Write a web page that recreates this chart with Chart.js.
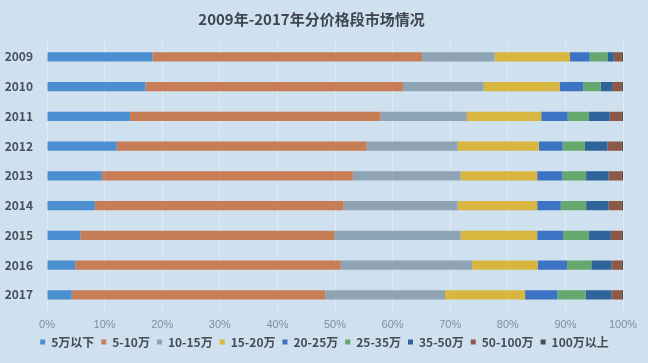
<!DOCTYPE html>
<html>
<head>
<meta charset="utf-8">
<script src="https://cdn.jsdelivr.net/npm/chart.js@4/dist/chart.umd.min.js"></script>
<style>
  html, body { margin: 0; padding: 0; }
  body { width: 648px; height: 363px; background: #cfe0ef; }
  #wrap { position: relative; width: 648px; height: 363px; }
</style>
</head>
<body>
<div id="wrap"><canvas id="chart" width="648" height="363"></canvas></div>
<script>
// 年份
const years = ['2009', '2010', '2011', '2012', '2013', '2014', '2015', '2016', '2017'];

// 各价格段占比 (%)
const under5 = [18.3, 17.1, 14.4, 12.1, 9.5, 8.3, 5.8, 4.9, 4.3];
const p5to10 = [46.8, 44.7, 43.5, 43.4, 43.6, 43.2, 44.1, 46.1, 44.0];
const p10to15 = [12.6, 14.0, 15.0, 15.8, 18.7, 19.8, 21.9, 22.8, 20.8];
const p15to20 = [13.1, 13.2, 12.9, 14.1, 13.3, 13.8, 13.3, 11.4, 13.9];
const p20to25 = [3.4, 4.1, 4.6, 4.1, 4.4, 4.1, 4.5, 5.1, 5.6];
const p25to35 = [3.1, 3.0, 3.7, 3.9, 4.1, 4.4, 4.5, 4.2, 4.9];
const p35to50 = [1.1, 2.0, 3.6, 3.9, 3.9, 3.9, 3.8, 3.5, 4.5];
const p50to100 = [1.4, 1.7, 2.1, 2.5, 2.3, 2.3, 1.9, 1.8, 1.8];
const over100 = [0.2, 0.2, 0.2, 0.2, 0.2, 0.2, 0.2, 0.2, 0.2];

const seriesNames = ['5万以下', '5-10万', '10-15万', '15-20万', '20-25万', '25-35万', '35-50万', '50-100万', '100万以上'];
const seriesData = [under5, p5to10, p10to15, p15to20, p20to25, p25to35, p35to50, p50to100, over100];
const colors = ['#4b8fd1', '#c77e57', '#8ea3b4', '#d8b640', '#3d73c3', '#67a86e', '#2d659b', '#8b5946', '#4d4d4d'];

const xTicks = ['0%', '10%', '20%', '30%', '40%', '50%', '60%', '70%', '80%', '90%', '100%'];

// 图例右移居中并上移，贴近横轴刻度
const legendShift = {
    id: 'legendShift',
    afterLayout(chart) {
        const lg = chart.legend;
        lg.left += 13;
        lg.right += 13;
        lg.top -= 12;
        lg.bottom -= 12;
    }
};

const ctx = document.getElementById('chart').getContext('2d');
new Chart(ctx, {
    type: 'bar',
    data: {
        labels: years,
        datasets: seriesData.map((d, i) => ({
            label: seriesNames[i],
            data: d,
            backgroundColor: colors[i],
            borderWidth: 0,
            barPercentage: 0.62,
            categoryPercentage: 0.5
        }))
    },
    options: {
        indexAxis: 'y',
        responsive: false,
        animation: false,
        layout: { padding: { left: 0, right: 25, top: 4, bottom: -7 } },
        plugins: {
            title: {
                display: true,
                text: '2009年-2017年分价格段市场情况',
                color: '#3f4650',
                font: { family: 'Noto Sans CJK SC', size: 15, weight: 'bold' },
                padding: { top: 6, bottom: 14 }
            },
            legend: {
                position: 'bottom',
                labels: {
                    boxWidth: 5,
                    boxHeight: 5,
                    padding: 7,
                    color: '#444c55',
                    font: { family: 'Noto Sans CJK SC', size: 12, weight: 'bold' }
                }
            },
            tooltip: { enabled: false }
        },
        scales: {
            x: {
                stacked: true,
                min: 0,
                max: 100,
                border: { display: false },
                grid: { color: 'rgba(255,255,255,0.35)', drawTicks: false },
                ticks: {
                    stepSize: 10,
                    padding: 9,
                    color: '#7b90a5',
                    font: { family: 'Liberation Sans', size: 11 },
                    callback: (v, i) => xTicks[i]
                }
            },
            y: {
                stacked: true,
                border: { display: false },
                grid: { display: false, drawTicks: false },
                afterFit: (scale) => { scale.width = 47; },
                ticks: {
                    padding: 14,
                    color: '#46505c',
                    font: { family: 'Noto Sans CJK SC', size: 12, weight: 'bold' }
                }
            }
        }
    },
    plugins: [legendShift]
});
</script>
</body>
</html>
